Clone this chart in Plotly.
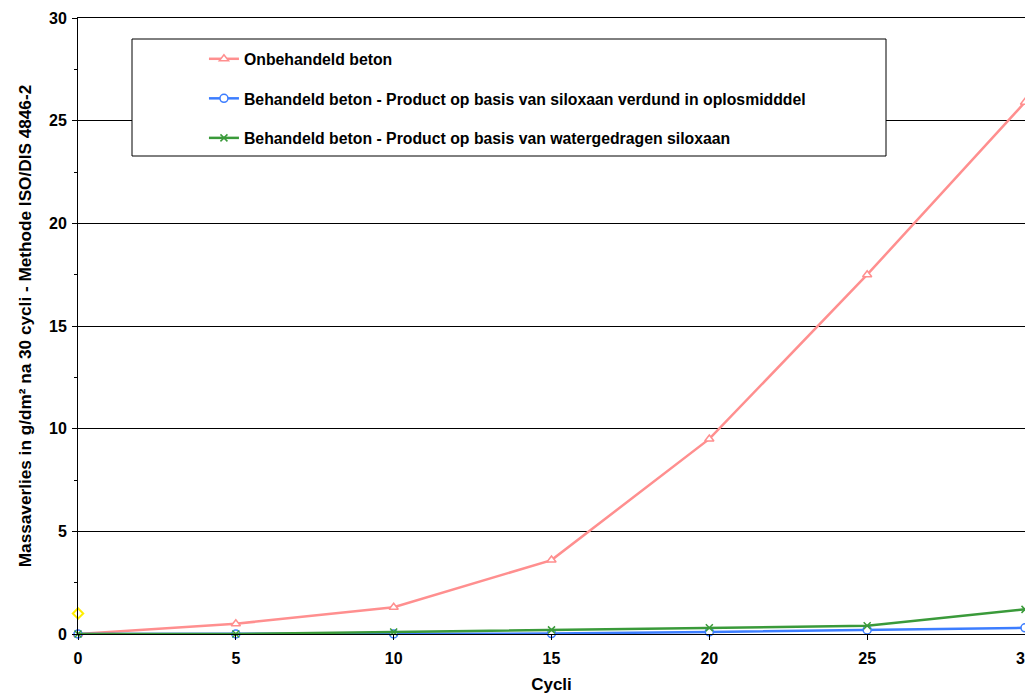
import plotly.graph_objects as go

cycli = [0, 5, 10, 15, 20, 25, 30]
onbehandeld = [0, 0.5, 1.3, 3.6, 9.5, 17.5, 25.9]
siloxaan_oplosmiddel = [0, 0, 0, 0.02, 0.1, 0.2, 0.3]
siloxaan_water = [0, 0, 0.1, 0.2, 0.3, 0.4, 1.2]
extra_x = [0]
extra_y = [1]

names = [
    "Onbehandeld beton",
    "Behandeld beton - Product op basis van siloxaan verdund in oplosmidddel",
    "Behandeld beton - Product op basis van watergedragen siloxaan",
]

fig = go.Figure()
fig.add_trace(go.Scatter(x=extra_x, y=extra_y, mode="markers", showlegend=False,
                         cliponaxis=False,
                         marker=dict(symbol="diamond-open", color="#FFEE00", size=8,
                                     line=dict(width=2, color="#FFEE00"))))
fig.add_trace(go.Scatter(x=cycli, y=onbehandeld, name=names[0], mode="lines+markers",
                         legendgroup="a", cliponaxis=False,
                         line=dict(color="#FF8F8F", width=2.5),
                         marker=dict(symbol="triangle-up", size=8, color="white",
                                     line=dict(color="#FF8F8F", width=1.5))))
fig.add_trace(go.Scatter(x=cycli, y=siloxaan_oplosmiddel, name=names[1], mode="lines+markers",
                         legendgroup="b", cliponaxis=False,
                         line=dict(color="#3C7DFF", width=2.5),
                         marker=dict(symbol="circle", size=8, color="white",
                                     line=dict(color="#3C7DFF", width=1.5))))
fig.add_trace(go.Scatter(x=cycli, y=siloxaan_water, name=names[2], mode="lines+markers",
                         legendgroup="c", cliponaxis=False,
                         line=dict(color="#3A9A3A", width=2.5),
                         marker=dict(symbol="x-thin", size=7, color="#3A9A3A",
                                     line=dict(color="#3A9A3A", width=1.5))))

font_b = "Liberation Sans"

fig.update_layout(
    width=1033, height=695,
    margin=dict(l=70, r=16, t=10, b=69, autoexpand=False),
    plot_bgcolor="white", paper_bgcolor="white",
    font=dict(family=font_b, color="black", size=16),
    showlegend=True,
    legend=dict(x=0.133, y=0.961, xanchor="left", yanchor="top",
                bgcolor="rgba(0,0,0,0)", borderwidth=0,
                traceorder="grouped", tracegroupgap=16,
                font=dict(family=font_b, size=15.8, weight="bold", color="black"),
                itemwidth=30),
    xaxis=dict(range=[0, 30], tickvals=cycli, ticks="outside", ticklen=5,
               tickcolor="black", showline=True, linecolor="black", linewidth=1,
               mirror=True, showgrid=False, zeroline=False, automargin=False,
               ticklabelstandoff=5,
               tickfont=dict(family=font_b, size=16, weight="bold"),
               title=dict(text="Cycli", font=dict(family=font_b, size=17, weight="bold"),
                          standoff=11)),
    yaxis=dict(range=[0, 30], dtick=5, ticks="outside", ticklen=5, tickcolor="black",
               showline=True, linecolor="black", linewidth=1, mirror=True,
               showgrid=True, gridcolor="black", gridwidth=1, zeroline=False,
               automargin=False, ticklabelstandoff=2,
               minor=dict(dtick=2.5, ticks="outside", ticklen=3, tickcolor="black",
                          showgrid=False),
               tickfont=dict(family=font_b, size=16, weight="bold"),
               title=dict(text="Massaverlies in g/dm² na 30 cycli - Methode ISO/DIS 4846-2",
                          font=dict(family=font_b, size=17.2, weight="bold"), standoff=12)),
    shapes=[dict(type="rect", xref="paper", yref="paper",
                 x0=(132 - 78) / 947, x1=(886 - 78) / 947,
                 y0=(633 - 155) / 616, y1=(633 - 38) / 616,
                 line=dict(color="black", width=1), fillcolor="white", layer="above")],
)
fig.write_html("out.html")
